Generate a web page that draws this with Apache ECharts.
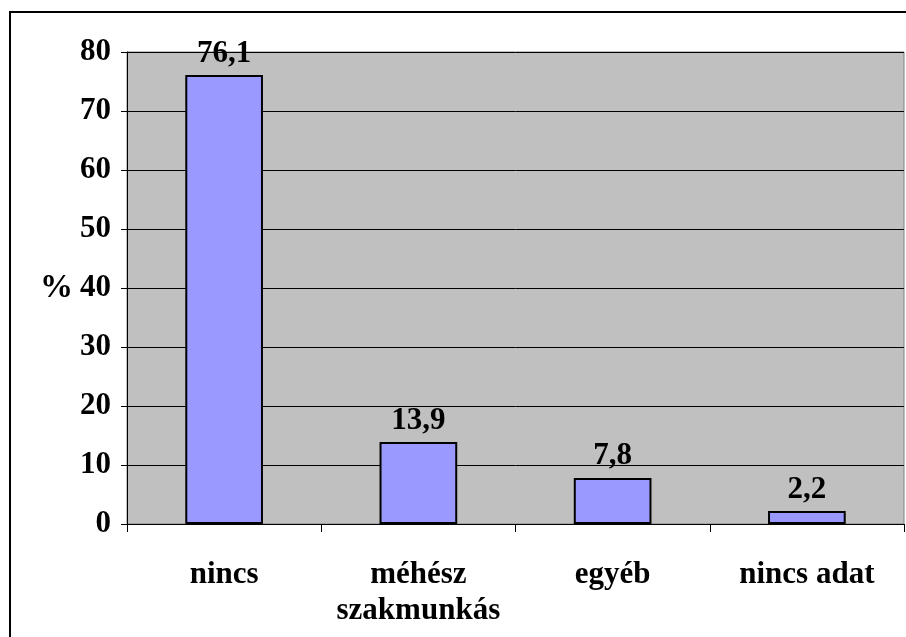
<!DOCTYPE html>
<html>
<head>
<meta charset="utf-8">
<script src="https://cdn.jsdelivr.net/npm/echarts@6/dist/echarts.min.js"></script>
<style>html,body{margin:0;padding:0;background:#fff}#c{width:906px;height:637px}</style>
</head>
<body>
<div id="c"></div>
<script>
var categories = ['nincs', 'méhész\nszakmunkás', 'egyéb', 'nincs adat'];
var values = [76.1, 13.9, 7.8, 2.2];
var yTicks = [0, 10, 20, 30, 40, 50, 60, 70, 80];

var font = '"Liberation Serif", "Times New Roman", serif';
var chart = echarts.init(document.getElementById('c'));
chart.setOption({
  animation: false,
  backgroundColor: '#ffffff',
  graphic: [{
    type: 'rect', z: 100,
    shape: {x: 10, y: 12, width: 1000, height: 1000},
    style: {fill: 'none', stroke: '#000', lineWidth: 2}
  }],
  grid: {
    left: 127, top: 52, right: 2, bottom: 113,
    show: true, backgroundColor: '#C0C0C0', borderColor: '#808080', borderWidth: 1
  },
  xAxis: {
    type: 'category',
    data: categories,
    axisLine: {lineStyle: {color: '#000', width: 1}},
    axisTick: {show: true, interval: 0, length: 8, lineStyle: {color: '#000'}},
    axisLabel: {
      interval: 0, margin: 33, color: '#000',
      fontFamily: font, fontWeight: 'bold', fontSize: 31, lineHeight: 36
    }
  },
  yAxis: {
    type: 'value',
    min: yTicks[0], max: yTicks[yTicks.length - 1], interval: 10,
    name: '%', nameLocation: 'middle', nameRotate: 0, nameGap: 54,
    nameTextStyle: {color: '#000', fontFamily: font, fontWeight: 'bold', fontSize: 33, padding: [0, 0, 14, 0]},
    axisLine: {show: true, lineStyle: {color: '#000', width: 1}},
    axisTick: {show: true, length: 6, lineStyle: {color: '#000'}},
    axisLabel: {margin: 16, color: '#000', fontFamily: font, fontWeight: 'bold', fontSize: 31, padding: [5, 0, 0, 0]},
    splitLine: {show: true, lineStyle: {color: '#000', width: 1}}
  },
  series: [{
    type: 'bar',
    data: values,
    barWidth: '40%',
    itemStyle: {color: '#9999FF', borderColor: '#000', borderWidth: 2},
    label: {
      show: true, position: 'top', distance: 6, color: '#000',
      fontFamily: font, fontWeight: 'bold', fontSize: 31,
      formatter: function (p) { return String(p.value).replace('.', ','); }
    }
  }]
});
</script>
</body>
</html>
